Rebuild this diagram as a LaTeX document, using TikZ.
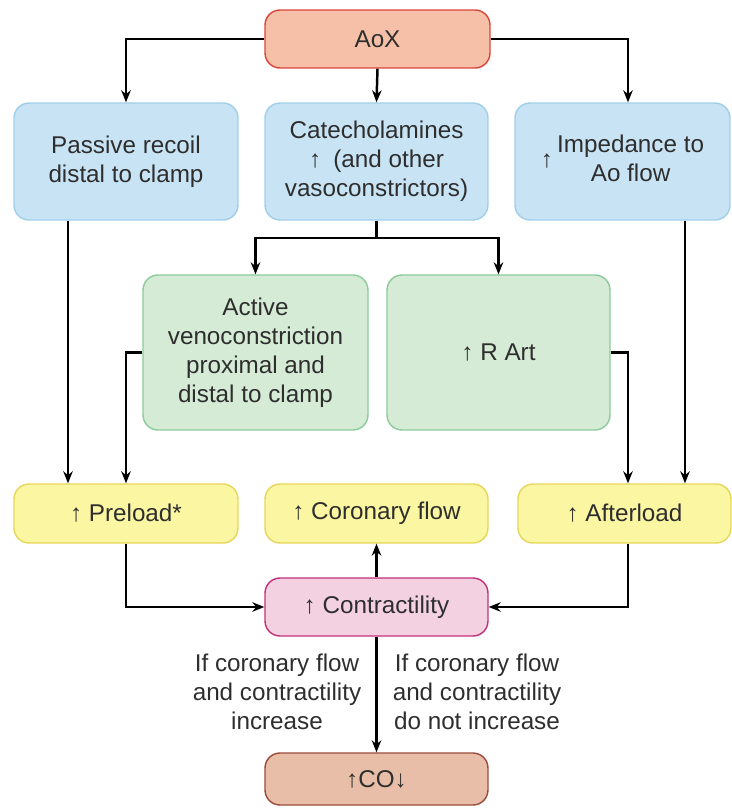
\documentclass[tikz,border=0pt]{standalone}
\usepackage{fontspec}
\setmainfont{Liberation Sans}
\usetikzlibrary{arrows.meta}
\definecolor{aoxfill}{HTML}{F6C0A8}
\definecolor{aoxline}{HTML}{D8453A}
\definecolor{bluefill}{HTML}{C8E4F4}
\definecolor{blueline}{HTML}{9FCFE8}
\definecolor{greenfill}{HTML}{D5EBD5}
\definecolor{greenline}{HTML}{8CCB9C}
\definecolor{yelfill}{HTML}{FBF6A2}
\definecolor{yelline}{HTML}{E6D65C}
\definecolor{pinkfill}{HTML}{F3D1E1}
\definecolor{pinkline}{HTML}{C2317A}
\definecolor{cofill}{HTML}{E9BEA8}
\definecolor{coline}{HTML}{9A4B3B}
\definecolor{txt}{HTML}{2E2E2E}
\begin{document}
\begin{tikzpicture}[x=0.02cm, y=-0.02cm, font=\fontsize{13.8}{16.6}\selectfont, text=txt,
  box/.style={rounded corners=0.3cm, line width=0.8pt, align=center, inner sep=2pt},
  arr/.style={line width=1.4pt, -{Stealth[length=2.4mm,width=1.9mm]}}]
  \useasboundingbox (0,0) rectangle (732,809);
  % top row
  \node[box, fill=aoxfill, draw=aoxline, minimum width=4.5cm, minimum height=1.16cm] (aox) at (377.5,39) {AoX};
  \node[box, fill=bluefill, draw=blueline, minimum width=4.48cm, minimum height=2.34cm] (passive) at (126,161.5) {Passive recoil\\distal to clamp};
  \node[box, fill=bluefill, draw=blueline, minimum width=4.46cm, minimum height=2.34cm] (catechol) at (376.5,161.5) {Catecholamines\\↑\enspace(and other\\vasoconstrictors)};
  \node[box, fill=bluefill, draw=blueline, minimum width=4.3cm, minimum height=2.34cm] (imped) at (622.5,161.5) {↑\,\begin{tabular}{@{}c@{}}Impedance to\\Ao flow\end{tabular}};
  % middle row
  \node[box, fill=greenfill, draw=greenline, minimum width=4.5cm, minimum height=3.1cm] (active) at (255.5,352.5) {Active\\venoconstriction\\proximal and\\distal to clamp};
  \node[box, fill=greenfill, draw=greenline, minimum width=4.46cm, minimum height=3.1cm] (rart) at (498.5,352.5) {↑ R Art};
  % loads
  \node[box, fill=yelfill, draw=yelline, minimum width=4.48cm, minimum height=1.18cm] (preload) at (126,513.5) {↑ Preload*};
  \node[box, fill=yelfill, draw=yelline, minimum width=4.46cm, minimum height=1.18cm] (coronary) at (376.5,513.5) {↑ Coronary flow};
  \node[box, fill=yelfill, draw=yelline, minimum width=4.26cm, minimum height=1.18cm] (afterload) at (624.5,513.5) {↑ Afterload};
  % bottom
  \node[box, fill=pinkfill, draw=pinkline, minimum width=4.46cm, minimum height=1.16cm] (contract) at (376.5,607) {↑ Contractility};
  \node[box, fill=cofill, draw=coline, minimum width=4.46cm, minimum height=1.04cm] (co) at (376.5,779) {↑CO↓};
  \node[align=center] (ifyes) at (277,692) {If coronary flow\\and contractility\\increase};
  \node[align=center] (ifno) at (477,692) {If coronary flow\\and contractility\\do not increase};
  % columns for the side lines
  \coordinate (colL) at (68,0);
  \coordinate (colR) at (628,0);
  \coordinate (colI) at (685,0);
  \coordinate (split) at (376.5,238);
  % connectors
  \draw[arr] (aox.west) -| (passive.north);
  \draw[arr] (aox.east) -| (colR |- imped.north);
  \draw[arr] (aox.south) -- (catechol.north);
  \draw[line width=1.4pt] (catechol.south) -- (split);
  \draw[arr] (split) -| (active.north);
  \draw[arr] (split) -| (rart.north);
  \draw[arr] (colL |- passive.south) -- (colL |- preload.north);
  \draw[arr] (active.west) -| (preload.north);
  \draw[arr] (rart.east) -| (colR |- afterload.north);
  \draw[arr] (colI |- imped.south) -- (colI |- afterload.north);
  \draw[arr] (preload.south) |- (contract.west);
  \draw[arr] (colR |- afterload.south) |- (contract.east);
  \draw[arr] (contract.north) -- (coronary.south);
  \draw[arr] (contract.south) -- (co.north);
\end{tikzpicture}
\end{document}
